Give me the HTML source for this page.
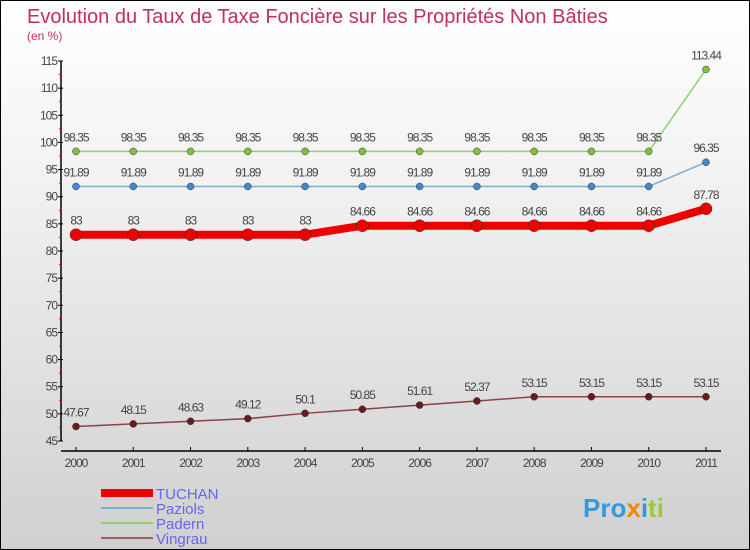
<!DOCTYPE html>
<html><head><meta charset="utf-8"><style>
body{margin:0}
#c{width:748px;height:548px;border:1px solid #000;background:linear-gradient(#fff,#f3f3f3 30%,#d0d0d0);position:relative;overflow:hidden;font-family:"Liberation Sans",sans-serif}
</style></head><body>
<div id="c">
<svg id="s" width="748" height="548" style="position:absolute;left:0;top:0">
<text x="26" y="22" font-size="20" fill="#c0305a">Evolution du Taux de Taxe Foncière sur les Propriétés Non Bâties</text>
<text x="26" y="39" font-size="12" fill="#c0305a">(en %)</text>
<g id="axes"></g><g id="series"></g>
<g>
<rect x="100" y="488" width="52" height="8" fill="#e00"/>
<text x="155" y="498" font-size="15" fill="#6666ee">TUCHAN</text>
<line x1="100" y1="507" x2="152" y2="507" stroke="#7aaed0" stroke-width="2"/>
<text x="155" y="513" font-size="15" fill="#6666ee">Paziols</text>
<line x1="100" y1="522" x2="152" y2="522" stroke="#90d070" stroke-width="2"/>
<text x="155" y="528" font-size="15" fill="#6666ee">Padern</text>
<line x1="100" y1="537" x2="152" y2="537" stroke="#a06060" stroke-width="2"/>
<text x="155" y="543" font-size="15" fill="#6666ee">Vingrau</text>
</g>
<text x="582" y="516" font-size="26" font-weight="bold"><tspan fill="#3399dd">Pro</tspan><tspan fill="#ee8800">x</tspan><tspan fill="#3399dd">i</tspan><tspan fill="#99cc33">ti</tspan></text>
</svg>
</div>
<script>
const years=[2000,2001,2002,2003,2004,2005,2006,2007,2008,2009,2010,2011];
const yTicks=[45,50,55,60,65,70,75,80,85,90,95,100,105,110,115];
const tuchan=[83,83,83,83,83,84.66,84.66,84.66,84.66,84.66,84.66,87.78];
const paziols=[91.89,91.89,91.89,91.89,91.89,91.89,91.89,91.89,91.89,91.89,91.89,96.35];
const padern=[98.35,98.35,98.35,98.35,98.35,98.35,98.35,98.35,98.35,98.35,98.35,113.44];
const vingrau=[47.67,48.15,48.63,49.12,50.1,50.85,51.61,52.37,53.15,53.15,53.15,53.15];
const NS="http://www.w3.org/2000/svg";
const X=i=>75+i*(630/(years.length-1));
const Y=v=>440-(v-45)*(380/70);
function mk(p,t,a){const e=document.createElementNS(NS,t);for(const k in a)e.setAttribute(k,a[k]);p.appendChild(e);return e;}
const ax=document.getElementById('axes');
let l=mk(ax,'line',{x1:60,y1:Y(115),x2:60,y2:Y(45),stroke:'#000','stroke-width':1.5});


l=mk(ax,'line',{x1:60,y1:450,x2:720,y2:450,stroke:'#000','stroke-width':1.5});


yTicks.forEach((t,i)=>{
 mk(ax,'line',{x1:57,y1:Y(t),x2:62,y2:Y(t),stroke:'#000'});
 if(i<yTicks.length-1)mk(ax,'line',{x1:58,y1:Y(t+2.5),x2:61,y2:Y(t+2.5),stroke:'#e00'});
 const tx=mk(ax,'text',{x:56,y:Y(t)+4,'font-size':12,fill:'#444','text-anchor':'end','letter-spacing':'-1'});
 tx.textContent=t;
 
 
});
years.forEach((yr,i)=>{
 mk(ax,'line',{x1:X(i),y1:446,x2:X(i),y2:450,stroke:'#000'});
 const tx=mk(ax,'text',{x:X(i),y:466,'font-size':12,fill:'#444','text-anchor':'middle','letter-spacing':'-1'});
 tx.textContent=yr;
 
 
});
const sg=document.getElementById('series');
function draw(name,data,color,w,r,dot){
 const g=mk(sg,'g',{});
 
 
 const pl=mk(g,'polyline',{points:data.map((v,i)=>X(i)+','+Y(v)).join(' '),fill:'none',stroke:color,'stroke-width':w,'stroke-linejoin':'round','stroke-linecap':'round'});
 
 
 data.forEach((v,i)=>{
  const c=mk(g,'circle',{cx:X(i),cy:Y(v),r:r,fill:dot,stroke:'#333','stroke-width':0.5});
  
  
  const t=mk(g,'text',{x:X(i),y:Y(v)-10,'font-size':12,fill:'#444','text-anchor':'middle','letter-spacing':'-1'});
  t.textContent=String(v);
  
  
 });
}
draw('padern',padern,'#90d070',1.5,3.5,'#80c040');
draw('paziols',paziols,'#7aaed0',1.5,3.5,'#4488cc');
draw('tuchan',tuchan,'#e00',8,6,'#e00');
draw('vingrau',vingrau,'#884444',1.5,3.5,'#6a1a1a');
</script>
</body></html>
